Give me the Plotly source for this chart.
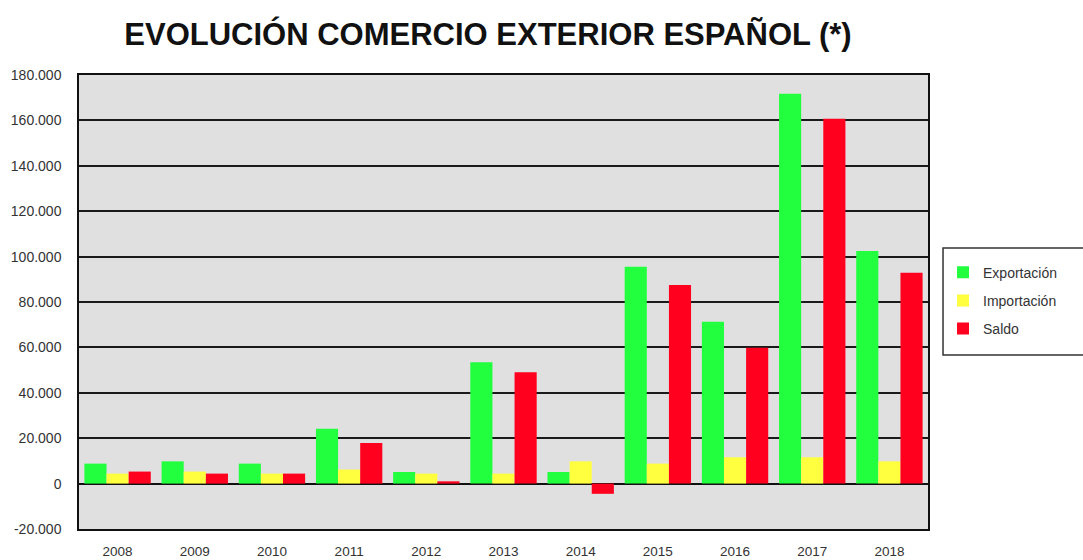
import plotly.graph_objects as go

years = ["2008", "2009", "2010", "2011", "2012", "2013", "2014", "2015", "2016", "2017", "2018"]
exportacion = [8800, 9800, 8800, 24200, 5100, 53500, 5100, 95500, 71300, 171700, 102500]
importacion = [4400, 5300, 4400, 6200, 4400, 4400, 9800, 8800, 11600, 11600, 9800]
saldo = [5300, 4400, 4400, 17900, 1000, 49100, -4500, 87500, 59900, 160700, 92900]

ytick_vals = [-20000, 0, 20000, 40000, 60000, 80000, 100000, 120000, 140000, 160000, 180000]
ytick_text = ["-20.000", "0", "20.000", "40.000", "60.000", "80.000", "100.000",
              "120.000", "140.000", "160.000", "180.000"]

font_family = "Liberation Sans, Arial, sans-serif"

fig = go.Figure()
fig.add_bar(x=years, y=exportacion, name="Exportación", marker_color="#22FF3F",
            marker_line_width=0, legendgroup="a")
fig.add_bar(x=years, y=importacion, name="Importación", marker_color="#FFFF40",
            marker_line_width=0, legendgroup="b")
fig.add_bar(x=years, y=saldo, name="Saldo", marker_color="#FF001E",
            marker_line_width=0, legendgroup="c")

fig.update_layout(
    width=1083, height=560,
    barmode="group", bargap=0.14, bargroupgap=0,
    paper_bgcolor="#ffffff", plot_bgcolor="#e0e0e0",
    margin=dict(l=79, r=155, t=75, b=31, autoexpand=False),
    font=dict(family=font_family, color="#333333", size=14),
    title=dict(
        text="<b>EVOLUCIÓN COMERCIO EXTERIOR ESPAÑOL (*)</b>",
        font=dict(family=font_family, size=31, color="#111111"),
        x=0.4506, xanchor="center", xref="container",
        y=1 - 34 / 560, yanchor="middle", yref="container",
    ),
    legend=dict(
        x=1.0177, y=0.60, xanchor="left", yanchor="top",
        bgcolor="rgba(0,0,0,0)", borderwidth=0,
        traceorder="grouped", tracegroupgap=7,
        font=dict(size=14, color="#333333"),
    ),
    showlegend=True,
    shapes=[dict(
        type="rect", xref="paper", yref="paper",
        x0=1.0177, x1=1.20, y0=0.383, y1=0.619,
        line=dict(color="#333333", width=1.5), fillcolor="#ffffff", layer="below",
    )],
)

fig.update_xaxes(
    showline=True, linecolor="#111111", linewidth=1.5, mirror=True,
    showgrid=False, ticks="", ticklabelstandoff=9, automargin=False,
    tickfont=dict(size=13.5, color="#333333"),
)
fig.update_yaxes(
    range=[-20000, 180000],
    tickvals=ytick_vals, ticktext=ytick_text,
    showline=True, linecolor="#111111", linewidth=1.5, mirror=True,
    showgrid=True, gridcolor="#1a1a1a", gridwidth=1.5,
    zeroline=True, zerolinecolor="#111111", zerolinewidth=1.5,
    ticks="", ticklabelstandoff=13, automargin=False,
    tickfont=dict(size=14, color="#333333"),
)

# the page's default body margin would shift the whole figure by 8px
fig.write_html("out.html", config={"displayModeBar": False},
               post_script="document.body.style.margin='0';")
